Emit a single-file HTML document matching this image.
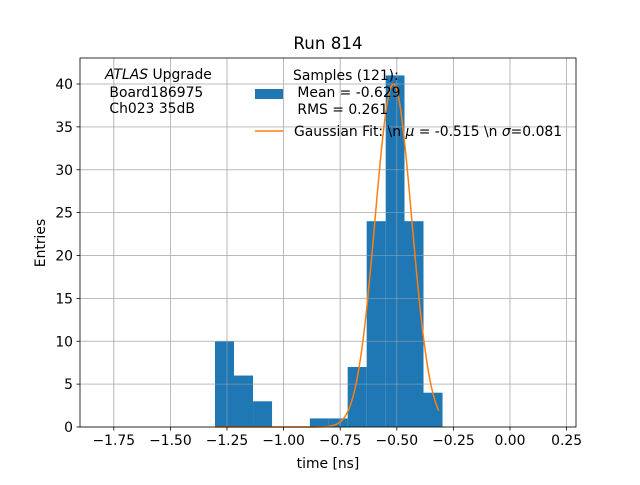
<!DOCTYPE html>
<html><head><meta charset="utf-8"><style>
body{margin:0;background:#fff;}
svg{font-family:"DejaVu Sans","Liberation Sans",sans-serif;}
</style></head><body>
<svg id="c" width="640" height="480" viewBox="0 0 640 480"></svg>
<script>
const binEdges=[-1.303,-1.219,-1.135,-1.051,-0.968,-0.884,-0.800,-0.717,-0.633,-0.549,-0.466,-0.382,-0.298];
const counts=[10,6,3,0,0,1,1,7,24,41,24,4];
const xTicks=[-1.75,-1.5,-1.25,-1.0,-0.75,-0.5,-0.25,0.0,0.25];
const xTickLabels=["\u22121.75","\u22121.50","\u22121.25","\u22121.00","\u22120.75","\u22120.50","\u22120.25","0.00","0.25"];
const yTicks=[0,5,10,15,20,25,30,35,40];
const fitParams=[40,-0.515,0.081];
const fitRange=[-1.303,-0.315];
const NS="http://www.w3.org/2000/svg";
const svg=document.getElementById('c');
const L=80,R=576,T=58,B=427;
function X(v){return 510+(v)*226.4;}
function Y(v){return 427-v*8.575;}
function mk(t,a,p){const e=document.createElementNS(NS,t);for(const k in a)e.setAttribute(k,a[k]);(p||svg).appendChild(e);return e;}
const g=mk('g',{});


xTicks.forEach(v=>mk('line',{x1:X(v),x2:X(v),y1:T,y2:B,stroke:'#b0b0b0','stroke-width':0.8},g));
yTicks.forEach(v=>mk('line',{x1:L,x2:R,y1:Y(v),y2:Y(v),stroke:'#b0b0b0','stroke-width':0.8},g));
counts.forEach((c,i)=>{if(c<=0)return;
const r=mk('rect',{x:X(binEdges[i]),y:Y(c),width:X(binEdges[i+1])-X(binEdges[i]),height:Y(0)-Y(c),fill:'#1f77b4'});

});
xTicks.forEach(v=>mk('line',{x1:X(v),x2:X(v),y1:T,y2:B,stroke:'#b0b0b0','stroke-width':0.8,'stroke-opacity':0.6}));
yTicks.forEach(v=>mk('line',{x1:L,x2:R,y1:Y(v),y2:Y(v),stroke:'#b0b0b0','stroke-width':0.8,'stroke-opacity':0.6}));
let d='';const N=200;
for(let i=0;i<=N;i++){const x=fitRange[0]+(fitRange[1]-fitRange[0])*i/N;
const y=fitParams[0]*Math.exp(-0.5*Math.pow((x-fitParams[1])/fitParams[2],2));
d+=(i?'L':'M')+X(x).toFixed(2)+','+Y(y).toFixed(2);}
const fl=mk('path',{d:d,fill:'none',stroke:'#ff7f0e','stroke-width':1.5});


const fr=mk('rect',{x:L,y:T,width:R-L,height:B-T,fill:'none',stroke:'#000','stroke-width':0.8});


xTicks.forEach((v,i)=>{mk('line',{x1:X(v),x2:X(v),y1:B,y2:B+3.5,stroke:'#000','stroke-width':0.8});
const t=mk('text',{x:X(v),y:B+18,'font-size':13.9,'text-anchor':'middle'});t.textContent=xTickLabels[i];

});
yTicks.forEach(v=>{mk('line',{x1:L,x2:L-3.5,y1:Y(v),y2:Y(v),stroke:'#000','stroke-width':0.8});
const t=mk('text',{x:L-7,y:Y(v)+5,'font-size':13.9,'text-anchor':'end'});t.textContent=v;

});
</script>
<svg style="position:absolute;left:0;top:0" width="640" height="480">
<text x="328" y="49" font-size="16.7" text-anchor="middle" font-family="DejaVu Sans,sans-serif">Run 814</text>
<text x="328" y="468" font-size="13.9" text-anchor="middle" font-family="DejaVu Sans,sans-serif">time [ns]</text>
<text transform="translate(45,243) rotate(-90)" font-size="13.9" text-anchor="middle" font-family="DejaVu Sans,sans-serif">Entries</text>
<g font-size="13.9" font-family="DejaVu Sans,sans-serif">
<text x="105" y="79"><tspan font-style="italic">ATLAS</tspan> Upgrade</text>
<text x="105" y="97">&#160;Board186975</text>
<text x="105" y="113">&#160;Ch023 35dB</text>
</g>
<g font-size="13.9" font-family="DejaVu Sans,sans-serif">
<rect x="255" y="89" width="28" height="10" fill="#1f77b4"/>
<text x="293" y="80">Samples (121):</text>
<text x="293" y="97">&#160;Mean = -0.629</text>
<text x="293" y="114">&#160;RMS = 0.261</text>
<line x1="255" x2="283" y1="131" y2="131" stroke="#ff7f0e" stroke-width="1.5"/>
<text x="294" y="136">Gaussian Fit: \n <tspan font-style="italic">μ</tspan> = -0.515 \n <tspan font-style="italic">σ</tspan>=0.081</text>
</g>
</svg>
</body></html>
